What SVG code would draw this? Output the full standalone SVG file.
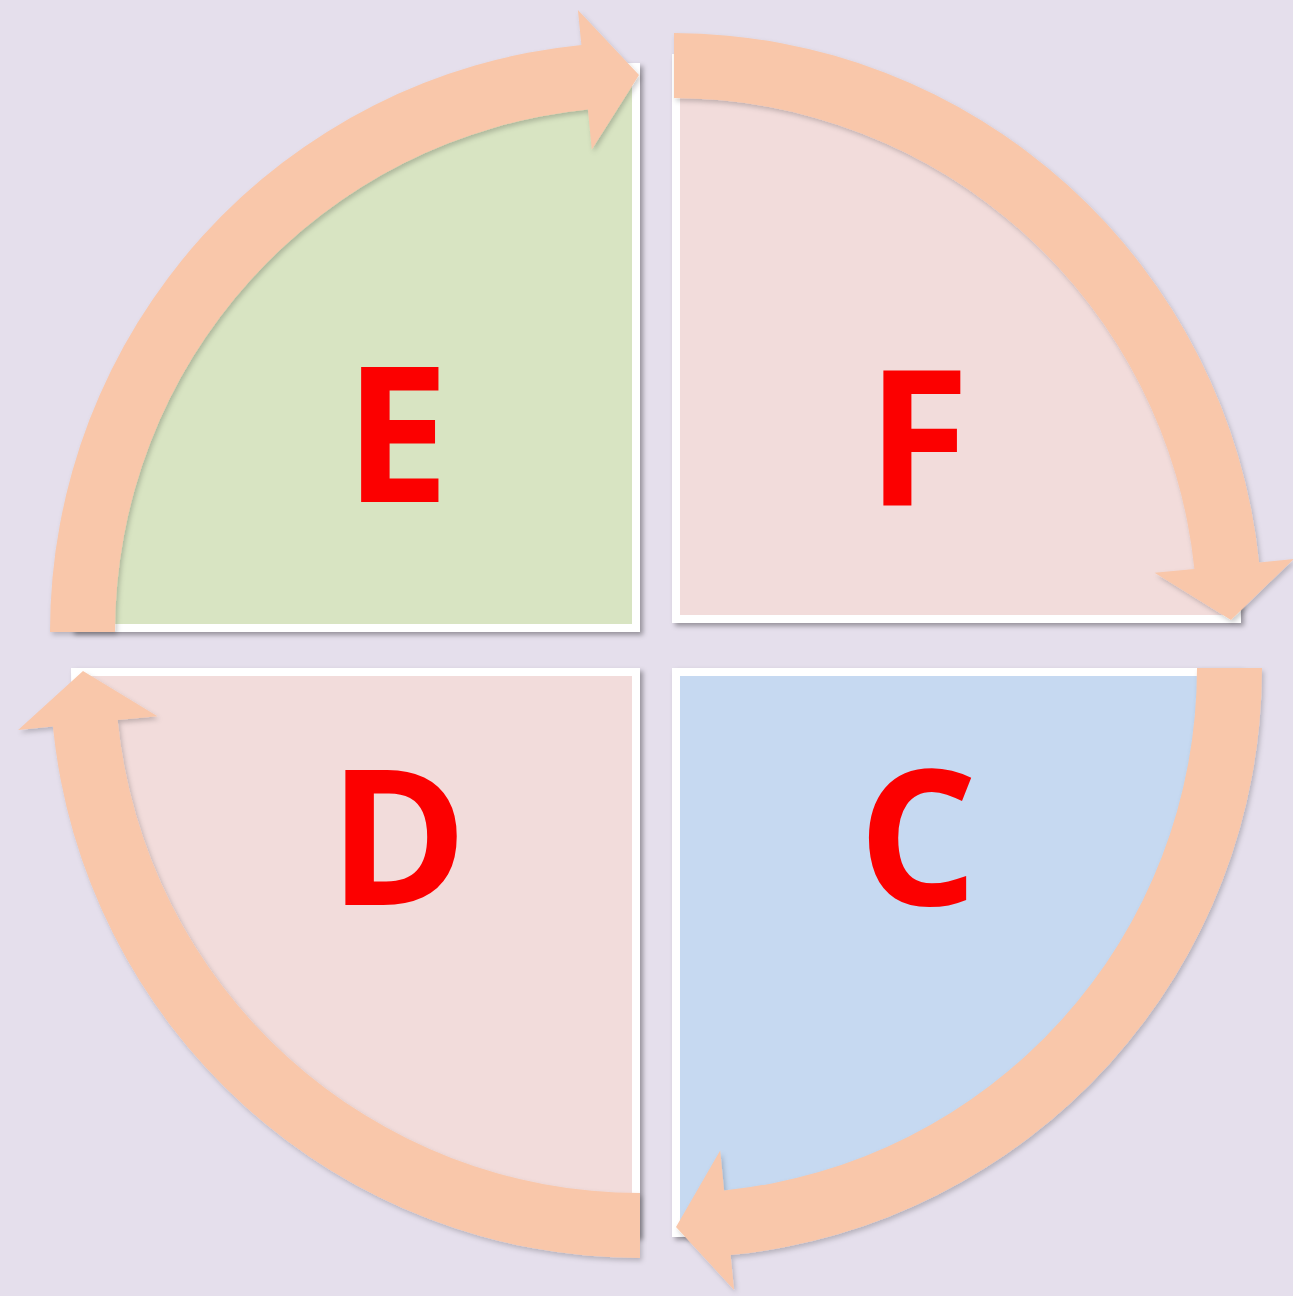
<svg xmlns="http://www.w3.org/2000/svg" width="1293" height="1296" viewBox="0 0 1293 1296">
<style>
.sec{stroke:#ffffff;stroke-width:8;stroke-linejoin:miter;filter:url(#sh)}
.arr{fill:#f9c7aa;filter:url(#sh2)}
.lbl{font-family:"Open Sans","Noto Sans",sans-serif;font-weight:700;font-size:188px;fill:#fc0000;text-anchor:middle}
</style>
<defs>
<filter id="sh" x="-10%" y="-10%" width="120%" height="120%">
<feDropShadow dx="3" dy="3" stdDeviation="2.5" flood-color="#000" flood-opacity="0.35"/>
</filter>
<filter id="sh2" x="-10%" y="-10%" width="120%" height="120%">
<feDropShadow dx="2" dy="3" stdDeviation="2.5" flood-color="#000" flood-opacity="0.2"/>
</filter>
</defs>
<rect width="1293" height="1296" fill="#e5dfec"/>
<g id="E">
<path class="sec" fill="#d8e4c2" d="M636,628 L75,628 A561,561 0 0 1 636,67 Z"/>
<text class="lbl" x="397" y="502">E</text>
</g>
<g id="F">
<path class="sec" fill="#f2dcdb" d="M676,619 L676,58 A561,561 0 0 1 1237,619 Z"/>
<text class="lbl" x="918" y="505">F</text>
</g>
<g id="D">
<path class="sec" fill="#f2dcdb" d="M636,672 L636,1233 A561,561 0 0 1 75,672 Z"/>
<text class="lbl" x="398" y="905">D</text>
</g>
<g id="C">
<path class="sec" fill="#c6d9f1" d="M676,672 L1237,672 A561,561 0 0 1 676,1233 Z"/>
<text class="lbl" x="918" y="905">C</text>
</g>
<g id="connectors">
<path class="arr" d="M50,632 A590,590 0 0 1 581.4,44.9 L577.9,10.1 L639,75 L591.8,149.4 L587.9,109.6 A525,525 0 0 0 115,632 Z"/>
<path class="arr" d="M674,33 A590,590 0 0 1 1259.1,562.4 L1293.9,558.9 L1231,620 L1154.6,572.8 L1194.4,568.9 A525,525 0 0 0 674,98 Z"/>
<path class="arr" d="M1262,668 A590,590 0 0 1 730.6,1255.1 L734.1,1289.9 L676,1227 L720.2,1150.6 L724.1,1190.4 A525,525 0 0 0 1197,668 Z"/>
<path class="arr" d="M640,1258 A590,590 0 0 1 52.9,726.6 L18.1,730.1 L83,671 L157.4,716.2 L117.6,720.1 A525,525 0 0 0 640,1193 Z"/>
</g>
</svg>
